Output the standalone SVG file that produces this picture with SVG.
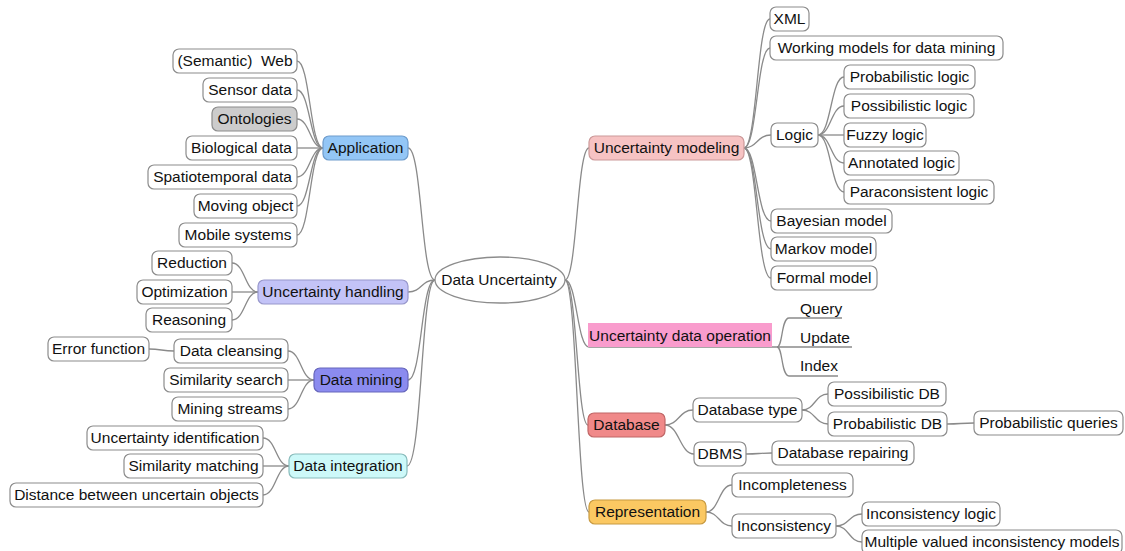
<svg xmlns="http://www.w3.org/2000/svg" width="1125" height="551" viewBox="0 0 1125 551">
  <style>
    .box { fill: #ffffff; stroke: #8c8c8c; stroke-width: 1.2; }
    .lbl { font-family: "Liberation Sans", Arial, sans-serif; font-size: 15.5px; fill: #111111; text-anchor: middle; }
    .lft { font-family: "Liberation Sans", Arial, sans-serif; font-size: 15.5px; fill: #111111; text-anchor: start; }
    .c { fill: none; stroke: #8a8a8a; stroke-width: 1.3; }
  </style>
  <rect width="1125" height="551" fill="#ffffff"/>

  <!-- connectors -->
  <g id="connectors">
    <!-- root to main branches, left -->
    <path class="c" d="M408 148 C422 148 421 280 435 280"/>
    <path class="c" d="M408 292 C422 292 421 280 435 280"/>
    <path class="c" d="M408 380 C422 380 421 280 435 280"/>
    <path class="c" d="M407 466 C422 466 421 280 435 280"/>
    <!-- root to main branches, right -->
    <path class="c" d="M565 280 C577 280 577 148 589 148"/>
    <path class="c" d="M565 280 C577 280 577 347 589 347 L777 347"/>
    <path class="c" d="M565 280 C577 280 577 425 588 425"/>
    <path class="c" d="M565 280 C577 280 577 512 589 512"/>
    <!-- Application -->
    <path class="c" d="M297 61 C310 61 310 148 323 148"/>
    <path class="c" d="M297 90 C310 90 310 148 323 148"/>
    <path class="c" d="M297 119 C310 119 310 148 323 148"/>
    <path class="c" d="M297 148 L323 148"/>
    <path class="c" d="M297 177 C310 177 310 148 323 148"/>
    <path class="c" d="M297 206 C310 206 310 148 323 148"/>
    <path class="c" d="M297 235 C310 235 310 148 323 148"/>
    <!-- Uncertainty handling -->
    <path class="c" d="M232 263 C245 263 245 292 258 292"/>
    <path class="c" d="M232 292 L258 292"/>
    <path class="c" d="M232 320 C245 320 245 292 258 292"/>
    <!-- Data mining -->
    <path class="c" d="M288 351 C301 351 301 380 314 380"/>
    <path class="c" d="M288 380 L314 380"/>
    <path class="c" d="M288 409 C301 409 301 380 314 380"/>
    <path class="c" d="M149 349 C161 349 162 351 174 351"/>
    <!-- Data integration -->
    <path class="c" d="M263 438 C276 438 276 466 289 466"/>
    <path class="c" d="M263 466 L289 466"/>
    <path class="c" d="M263 495 C276 495 276 466 289 466"/>
    <!-- Uncertainty modeling -->
    <path class="c" d="M744 148 C757 148 757 19 770 19"/>
    <path class="c" d="M744 148 C757 148 757 48 770 48"/>
    <path class="c" d="M744 148 C757 148 757 135 771 135"/>
    <path class="c" d="M744 148 C757 148 757 221 771 221"/>
    <path class="c" d="M744 148 C757 148 757 249 771 249"/>
    <path class="c" d="M744 148 C757 148 757 278 771 278"/>
    <!-- Logic -->
    <path class="c" d="M818 135 C831 135 831 77 844 77"/>
    <path class="c" d="M818 135 C831 135 831 106 844 106"/>
    <path class="c" d="M818 135 L844 135"/>
    <path class="c" d="M818 135 C831 135 831 163 844 163"/>
    <path class="c" d="M818 135 C831 135 831 192 844 192"/>
    <!-- Uncertainty data operation -->
    <path class="c" d="M777 347 C783 347 781 318 789 318 L842 318"/>
    <path class="c" d="M777 347 L852 347"/>
    <path class="c" d="M777 347 C783 347 781 376 789 376 L838 376"/>
    <!-- Database -->
    <path class="c" d="M665 425 C679 425 679 410 693 410"/>
    <path class="c" d="M665 425 C679 425 680 454 694 454"/>
    <path class="c" d="M802 410 C815 410 815 394 828 394"/>
    <path class="c" d="M802 410 C815 410 815 424 828 424"/>
    <path class="c" d="M947 424 C960 424 961 423 974 423"/>
    <path class="c" d="M746 454 C759 454 759 453 772 453"/>
    <!-- Representation -->
    <path class="c" d="M706 512 C719 512 719 485 732 485"/>
    <path class="c" d="M706 512 C719 512 719 526 732 526"/>
    <path class="c" d="M836 526 C849 526 849 514 862 514"/>
    <path class="c" d="M836 526 C849 526 849 542 862 542"/>
  </g>

  <!-- central topic -->
  <g id="root">
    <ellipse cx="500" cy="280" rx="65" ry="23" fill="#ffffff" stroke="#8c8c8c" stroke-width="1.3"/>
    <text class="lbl" x="499" y="285">Data Uncertainty</text>
  </g>

  <!-- left branches -->
  <g id="application">
    <rect x="323" y="136" width="85" height="24" rx="6" fill="#93c6f6" stroke="#6e9ccc" stroke-width="1.2"/>
    <text class="lbl" x="365.5" y="153">Application</text>
  </g>
  <g id="semantic-web"><rect class="box" x="173" y="49" width="124" height="24" rx="6"/><text class="lbl" x="235" y="66">(Semantic)&#160; Web</text></g>
  <g id="sensor-data"><rect class="box" x="203" y="78" width="94" height="24" rx="6"/><text class="lbl" x="250" y="95">Sensor data</text></g>
  <g id="ontologies"><rect x="212" y="107" width="85" height="24" rx="6" fill="#cccccc" stroke="#8c8c8c" stroke-width="1.2"/><text class="lbl" x="254.5" y="124">Ontologies</text></g>
  <g id="biological-data"><rect class="box" x="186" y="136" width="111" height="24" rx="6"/><text class="lbl" x="241.5" y="153">Biological data</text></g>
  <g id="spatiotemporal-data"><rect class="box" x="148" y="165" width="149" height="24" rx="6"/><text class="lbl" x="222.5" y="182">Spatiotemporal data</text></g>
  <g id="moving-object"><rect class="box" x="194" y="194" width="103" height="24" rx="6"/><text class="lbl" x="245.5" y="211">Moving object</text></g>
  <g id="mobile-systems"><rect class="box" x="179" y="223" width="118" height="24" rx="6"/><text class="lbl" x="238" y="240">Mobile systems</text></g>

  <g id="uncertainty-handling">
    <rect x="258" y="280" width="150" height="24" rx="6" fill="#c3c3f7" stroke="#9898cc" stroke-width="1.2"/>
    <text class="lbl" x="333" y="297">Uncertainty handling</text>
  </g>
  <g id="reduction"><rect class="box" x="152" y="251" width="80" height="24" rx="6"/><text class="lbl" x="192" y="268">Reduction</text></g>
  <g id="optimization"><rect class="box" x="137" y="280" width="95" height="24" rx="6"/><text class="lbl" x="184.5" y="297">Optimization</text></g>
  <g id="reasoning"><rect class="box" x="146" y="308" width="86" height="24" rx="6"/><text class="lbl" x="189" y="325">Reasoning</text></g>

  <g id="data-mining">
    <rect x="314" y="368" width="94" height="24" rx="6" fill="#8b8bef" stroke="#6666bb" stroke-width="1.2"/>
    <text class="lbl" x="361" y="385">Data mining</text>
  </g>
  <g id="data-cleansing"><rect class="box" x="174" y="339" width="114" height="24" rx="6"/><text class="lbl" x="231" y="356">Data cleansing</text></g>
  <g id="error-function"><rect class="box" x="48" y="337" width="101" height="24" rx="6"/><text class="lbl" x="98.5" y="354">Error function</text></g>
  <g id="similarity-search"><rect class="box" x="164" y="368" width="124" height="24" rx="6"/><text class="lbl" x="226" y="385">Similarity search</text></g>
  <g id="mining-streams"><rect class="box" x="172" y="397" width="116" height="24" rx="6"/><text class="lbl" x="230" y="414">Mining streams</text></g>

  <g id="data-integration">
    <rect x="289" y="454" width="118" height="24" rx="6" fill="#cdf9f9" stroke="#88bbbb" stroke-width="1.2"/>
    <text class="lbl" x="348" y="471">Data integration</text>
  </g>
  <g id="uncertainty-identification"><rect class="box" x="87" y="426" width="176" height="24" rx="6"/><text class="lbl" x="175" y="443">Uncertainty identification</text></g>
  <g id="similarity-matching"><rect class="box" x="124" y="454" width="139" height="24" rx="6"/><text class="lbl" x="193.5" y="471">Similarity matching</text></g>
  <g id="distance-objects"><rect class="box" x="10" y="483" width="253" height="24" rx="6"/><text class="lbl" x="136.5" y="500">Distance between uncertain objects</text></g>

  <!-- right branches -->
  <g id="uncertainty-modeling">
    <rect x="589" y="136" width="155" height="24" rx="6" fill="#f7c3c3" stroke="#cc9999" stroke-width="1.2"/>
    <text class="lbl" x="666.5" y="153">Uncertainty modeling</text>
  </g>
  <g id="xml"><rect class="box" x="770" y="7" width="39" height="24" rx="6"/><text class="lbl" x="789.5" y="24">XML</text></g>
  <g id="working-models"><rect class="box" x="770" y="36" width="233" height="24" rx="6"/><text class="lbl" x="886.5" y="53">Working models for data mining</text></g>
  <g id="logic"><rect class="box" x="771" y="123" width="47" height="24" rx="6"/><text class="lbl" x="794.5" y="140">Logic</text></g>
  <g id="probabilistic-logic"><rect class="box" x="844" y="65" width="131" height="24" rx="6"/><text class="lbl" x="909.5" y="82">Probabilistic logic</text></g>
  <g id="possibilistic-logic"><rect class="box" x="844" y="94" width="130" height="24" rx="6"/><text class="lbl" x="909" y="111">Possibilistic logic</text></g>
  <g id="fuzzy-logic"><rect class="box" x="844" y="123" width="82" height="24" rx="6"/><text class="lbl" x="885" y="140">Fuzzy logic</text></g>
  <g id="annotated-logic"><rect class="box" x="844" y="151" width="115" height="24" rx="6"/><text class="lbl" x="901.5" y="168">Annotated logic</text></g>
  <g id="paraconsistent-logic"><rect class="box" x="844" y="180" width="150" height="24" rx="6"/><text class="lbl" x="919" y="197">Paraconsistent logic</text></g>
  <g id="bayesian-model"><rect class="box" x="771" y="209" width="121" height="24" rx="6"/><text class="lbl" x="831.5" y="226">Bayesian model</text></g>
  <g id="markov-model"><rect class="box" x="771" y="237" width="105" height="24" rx="6"/><text class="lbl" x="823.5" y="254">Markov model</text></g>
  <g id="formal-model"><rect class="box" x="771" y="266" width="106" height="24" rx="6"/><text class="lbl" x="824" y="283">Formal model</text></g>

  <g id="uncertainty-data-operation">
    <rect x="588" y="323" width="184" height="24" fill="#f99ccd"/>
    <text class="lbl" x="680" y="341">Uncertainty data operation</text>
  </g>
  <g id="query"><text class="lft" x="800" y="314">Query</text></g>
  <g id="update"><text class="lft" x="800" y="343">Update</text></g>
  <g id="index"><text class="lft" x="800" y="371">Index</text></g>

  <g id="database">
    <rect x="588" y="413" width="77" height="24" rx="6" fill="#f08989" stroke="#c06666" stroke-width="1.2"/>
    <text class="lbl" x="626.5" y="430">Database</text>
  </g>
  <g id="database-type"><rect class="box" x="693" y="398" width="109" height="24" rx="6"/><text class="lbl" x="747.5" y="415">Database type</text></g>
  <g id="possibilistic-db"><rect class="box" x="828" y="382" width="118" height="24" rx="6"/><text class="lbl" x="887" y="399">Possibilistic DB</text></g>
  <g id="probabilistic-db"><rect class="box" x="828" y="412" width="119" height="24" rx="6"/><text class="lbl" x="887.5" y="429">Probabilistic DB</text></g>
  <g id="probabilistic-queries"><rect class="box" x="974" y="411" width="149" height="24" rx="6"/><text class="lbl" x="1048.5" y="428">Probabilistic queries</text></g>
  <g id="dbms"><rect class="box" x="694" y="442" width="52" height="24" rx="6"/><text class="lbl" x="720" y="459">DBMS</text></g>
  <g id="database-repairing"><rect class="box" x="772" y="441" width="142" height="24" rx="6"/><text class="lbl" x="843" y="458">Database repairing</text></g>

  <g id="representation">
    <rect x="589" y="500" width="117" height="24" rx="6" fill="#fbc862" stroke="#c89a40" stroke-width="1.2"/>
    <text class="lbl" x="647.5" y="517">Representation</text>
  </g>
  <g id="incompleteness"><rect class="box" x="732" y="473" width="121" height="24" rx="6"/><text class="lbl" x="792.5" y="490">Incompleteness</text></g>
  <g id="inconsistency"><rect class="box" x="732" y="514" width="104" height="24" rx="6"/><text class="lbl" x="784" y="531">Inconsistency</text></g>
  <g id="inconsistency-logic"><rect class="box" x="862" y="502" width="138" height="24" rx="6"/><text class="lbl" x="931" y="519">Inconsistency logic</text></g>
  <g id="multiple-valued"><rect class="box" x="862" y="530" width="260" height="24" rx="6"/><text class="lbl" x="992" y="547">Multiple valued inconsistency models</text></g>
</svg>
